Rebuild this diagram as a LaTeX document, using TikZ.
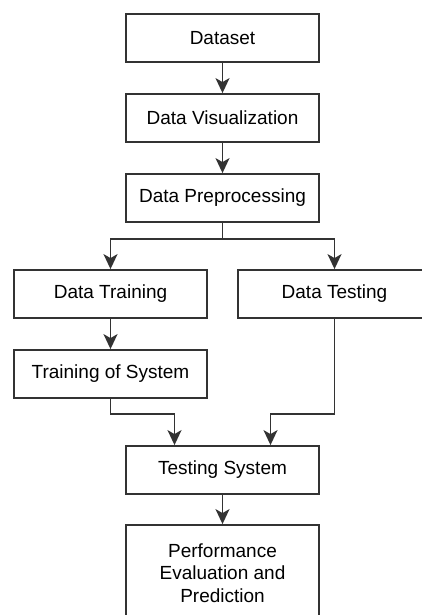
\documentclass[tikz,border=0pt]{standalone}
\usepackage{fontspec}
\setmainfont{Liberation Sans}
\usepackage{tikz}
\usetikzlibrary{arrows.meta,positioning}
\tikzset{
  stage/.style={rectangle,draw=black!80,line width=1.8pt,fill=white,minimum width=193pt,minimum height=48pt,inner sep=1pt,align=center,font=\fontsize{19}{22.5}\selectfont},
  flow/.style={line width=1.8pt,black!80,-{Stealth[length=15pt,width=14pt,inset=4pt]}},
  every picture/.style={baseline={(current bounding box.center)}}
}
\begin{document}
\begin{tikzpicture}[x=1pt,y=-1pt]
  \useasboundingbox (0,0) rectangle (421,615);

  \node[stage] (data) at (222.5,38) {Dataset};
  \node[stage] (vis) at (222.5,118) {Data Visualization};
  \node[stage] (prep) at (222.5,198) {Data Preprocessing};
  \node[stage] (train) at (110.5,294) {Data Training};
  \node[stage] (test) at (334.5,294) {Data Testing};
  \node[stage] (tsys) at (110.5,374) {Training of System};
  \node[stage] (check) at (222.5,470) {Testing System};
  \node[stage,minimum height=96pt] (perf) at (222.5,573) {Performance\\Evaluation and\\Prediction};

  \draw[flow] (data)--(vis);
  \draw[flow] (vis)--(prep);
  \draw[flow] (prep.south)--++(0,16)-|(train.north);
  \draw[flow] (prep.south)--++(0,16)-|(test.north);
  \draw[flow] (train)--(tsys);
  \draw[flow] (tsys.south)--++(0,15)-|([xshift=-48pt]check.north);
  \draw[flow] (test.south)--++(0,95)-|([xshift=48pt]check.north);
  \draw[flow] (check)--(perf);
\end{tikzpicture}
\end{document}
